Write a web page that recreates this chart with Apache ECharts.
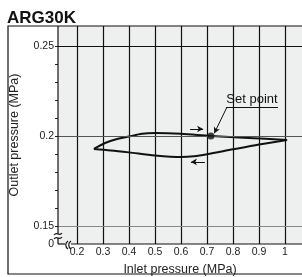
<!DOCTYPE html>
<html>
<head>
<meta charset="utf-8">
<script src="https://cdn.jsdelivr.net/npm/echarts@6/dist/echarts.min.js"></script>
<style>
  html, body { margin: 0; padding: 0; background: #fff; }
  #main { width: 302px; height: 277px; }
</style>
</head>
<body>
<div id="main"></div>
<script>
// axes
var xMin = 0.1269, xMax = 1.0654;
var yMin = 0.14, yMax = 0.2611;
var xTicks = [0.2, 0.3, 0.4, 0.5, 0.6, 0.7, 0.8, 0.9, 1.0];
var yTicks = [0.15, 0.16, 0.17, 0.18, 0.19, 0.2, 0.21, 0.22, 0.23, 0.24, 0.25];
var yLabels = [0.14, 0.15, 0.2, 0.25]; // 0.14 = broken-axis "0"
var yGrid = [0.15, 0.2, 0.25];

// hysteresis loop (inlet, outlet)
var riseCurve = [[0.265, 0.1928], [0.308, 0.1961], [0.354, 0.1983], [0.4, 0.1997], [0.45, 0.2012],
  [0.5, 0.2016], [0.6, 0.2012], [0.715, 0.2], [0.86, 0.1989], [1.008, 0.1978]];
var fallCurve = [[1.008, 0.1978], [0.9, 0.1953], [0.8, 0.1926], [0.7, 0.1898], [0.65, 0.1887],
  [0.6, 0.1883], [0.5, 0.1892], [0.4, 0.1909], [0.33, 0.192], [0.265, 0.1928]];
var setPoint = [0.715, 0.2];

// annotations
var arrowUp = [[0.635, 0.2039], [0.685, 0.2039]];
var arrowDown = [[0.692, 0.1856], [0.638, 0.1856]];
var leader = [[0.777, 0.2161], [0.728, 0.2015]];
var underline = [[0.773, 0.2161], [0.973, 0.2161]];

var font = "'Liberation Sans', Arial, sans-serif";
var chart = echarts.init(document.getElementById('main'));

function arrowSeries(p) {
  return {
    type: 'line', data: [], z: 4, silent: true,
    markLine: {
      silent: true, label: { show: false }, symbol: ['none', 'arrow'], symbolSize: [5, 6],
      lineStyle: { type: 'solid', color: '#111', width: 1 },
      data: [[{ coord: p[0] }, { coord: p[1] }]]
    }
  };
}

var option = {
  animation: false,
  title: {
    text: 'ARG30K', left: 2, top: 5,
    textStyle: { fontFamily: font, fontSize: 17, fontWeight: 'bold', color: '#111' }
  },
  grid: {
    left: 58, right: 0, top: 26, bottom: 33,
    show: true, backgroundColor: '#eeefef', borderWidth: 0,
    outerBoundsMode: 'none'
  },
  xAxis: {
    type: 'value', min: xMin, max: xMax,
    name: 'Inlet pressure (MPa)', nameLocation: 'middle', nameGap: 16,
    nameTextStyle: { fontFamily: font, fontSize: 12.5, color: '#222' },
    axisLine: { show: false },
    axisTick: { show: false, customValues: xTicks },
    axisLabel: {
      customValues: xTicks, margin: 3,
      fontFamily: font, fontSize: 10.5, color: '#222',
      formatter: function (v) { return String(+v.toFixed(1)); }
    },
    splitLine: { show: true, lineStyle: { color: '#111', width: 1.2 } }
  },
  yAxis: {
    type: 'value', min: yMin, max: yMax,
    name: 'Outlet pressure (MPa)', nameLocation: 'middle', nameGap: 37,
    nameTextStyle: { fontFamily: font, fontSize: 12.5, color: '#222' },
    axisLine: { show: false },
    axisTick: { show: true, customValues: yTicks, length: 3, lineStyle: { color: '#222' } },
    axisLabel: {
      customValues: yLabels, margin: 4,
      fontFamily: font, fontSize: 10.5, color: '#222',
      formatter: function (v) { return v < 0.145 ? '0' : String(+v.toFixed(2)); }
    },
    splitLine: { show: false }
  },
  series: [
    {
      type: 'line', data: [], z: 1, silent: true,
      markLine: {
        silent: true, symbol: 'none', label: { show: false },
        data: yGrid.map(function (v) {
          return { yAxis: v, lineStyle: { type: 'solid', width: 1.2, color: v === 0.25 ? '#111' : (v === 0.2 ? '#555' : '#888') } };
        })
      }
    },
    {
      type: 'line', data: riseCurve, smooth: 0.3, showSymbol: false, z: 3,
      lineStyle: { color: '#111', width: 2 }
    },
    {
      type: 'line', data: fallCurve, smooth: 0.3, showSymbol: false, z: 3,
      lineStyle: { color: '#111', width: 2 }
    },
    {
      type: 'scatter', data: [setPoint], symbolSize: 7, z: 5,
      itemStyle: { color: '#111' }
    },
    arrowSeries(arrowUp),
    arrowSeries(arrowDown),
    arrowSeries(leader),
    {
      type: 'line', data: [], z: 4, silent: true,
      markLine: {
        silent: true, symbol: 'none',
        lineStyle: { type: 'solid', color: '#111', width: 1 },
        label: { show: true, formatter: 'Set point', position: 'insideMiddleTop', distance: 1,
          fontFamily: font, fontSize: 13, color: '#111' },
        data: [[{ coord: underline[0] }, { coord: underline[1] }]]
      }
    }
  ]
};
chart.setOption(option);

// frame + broken axes, placed from the axis scales
var o = chart.convertToPixel({ gridIndex: 0 }, [xMin, yMin]);
var t = chart.convertToPixel({ gridIndex: 0 }, [xMin, yMax]);
var r = chart.convertToPixel({ gridIndex: 0 }, [xMax, yMin]);
var x0 = o[0], y0 = o[1];
var ln = { stroke: '#111', lineWidth: 1.2, fill: null };
function wave(cx, cy) {
  return { type: 'bezierCurve', z: 20, shape: { x1: cx - 4, y1: cy + 1, x2: cx + 4, y2: cy - 1, cpx1: cx - 1, cpy1: cy - 3, cpx2: cx + 1, cpy2: cy + 3 }, style: ln };
}
function paren(cx, cy) {
  return { type: 'bezierCurve', z: 20, shape: { x1: cx + 1, y1: cy - 4, x2: cx + 1, y2: cy + 4, cpx1: cx - 2, cpy1: cy - 2, cpx2: cx - 2, cpy2: cy + 2 }, style: ln };
}
chart.setOption({
  graphic: [
    { type: 'rect', z: 20, shape: { x: 8, y: t[1], width: 300, height: 248 }, style: { stroke: '#111', lineWidth: 1.2, fill: null } },
    { type: 'line', z: 20, shape: { x1: x0, y1: t[1], x2: x0, y2: y0 - 10 }, style: ln },
    wave(x0, y0 - 10),
    wave(x0, y0 - 6),
    { type: 'line', z: 20, shape: { x1: x0, y1: y0 - 6, x2: x0, y2: y0 }, style: ln },
    { type: 'line', z: 20, shape: { x1: x0, y1: y0, x2: x0 + 7, y2: y0 }, style: ln },
    paren(x0 + 9, y0 + 1),
    paren(x0 + 12, y0 + 1),
    { type: 'line', z: 20, shape: { x1: x0 + 13, y1: y0, x2: r[0], y2: y0 }, style: ln }
  ]
});
</script>
</body>
</html>
